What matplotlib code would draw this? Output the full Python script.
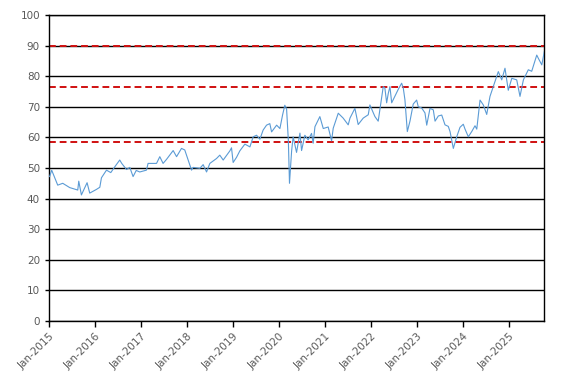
import matplotlib
matplotlib.use("Agg")
import matplotlib.pyplot as plt
import matplotlib.dates as mdates
import numpy as np
import pandas as pd

# series (approximate)
dates = [
    "2015-01-06", "2015-01-22", "2015-03-11", "2015-04-20", "2015-06-14", "2015-08-17",
    "2015-08-25", "2015-09-15", "2015-10-30", "2015-11-20", "2016-01-12", "2016-02-08",
    "2016-02-21", "2016-04-01", "2016-05-05", "2016-06-06", "2016-07-15", "2016-07-31",
    "2016-09-07", "2016-10-03", "2016-10-29", "2016-11-23", "2016-12-21", "2017-02-12",
    "2017-02-25", "2017-05-03", "2017-05-29", "2017-06-24", "2017-07-21", "2017-08-16",
    "2017-09-12", "2017-10-09", "2017-11-17", "2017-12-13", "2018-01-09", "2018-02-05",
    "2018-02-17", "2018-04-12", "2018-05-08", "2018-06-04", "2018-06-30", "2018-08-22",
    "2018-09-17", "2018-10-14", "2018-12-06", "2018-12-19", "2019-01-01", "2019-01-28",
    "2019-02-23", "2019-04-04", "2019-05-14", "2019-06-09", "2019-07-06", "2019-08-01",
    "2019-08-27", "2019-09-23", "2019-10-19", "2019-11-02", "2019-12-12", "2020-01-07",
    "2020-01-28", "2020-02-15", "2020-02-29", "2020-03-14", "2020-03-23", "2020-04-09",
    "2020-04-21", "2020-05-18", "2020-06-14", "2020-06-27", "2020-07-23", "2020-08-18",
    "2020-09-14", "2020-09-27", "2020-10-11", "2020-11-19", "2020-12-16", "2021-01-24",
    "2021-02-20", "2021-03-05", "2021-04-14", "2021-05-23", "2021-07-02", "2021-07-16",
    "2021-08-24", "2021-09-19", "2021-10-29", "2021-12-08", "2021-12-21", "2022-01-30",
    "2022-02-25", "2022-03-11", "2022-04-06", "2022-04-19", "2022-05-03", "2022-05-16",
    "2022-05-29", "2022-06-12", "2022-07-08", "2022-08-03", "2022-08-30", "2022-09-12",
    "2022-09-25", "2022-10-14", "2022-11-04", "2022-11-30", "2022-12-27", "2023-01-09",
    "2023-02-05", "2023-03-03", "2023-03-17", "2023-04-12", "2023-05-08", "2023-05-22",
    "2023-06-17", "2023-07-14", "2023-08-09", "2023-09-04", "2023-09-18", "2023-10-01",
    "2023-10-14", "2023-11-10", "2023-12-06", "2024-01-01", "2024-01-15", "2024-02-10",
    "2024-03-08", "2024-04-03", "2024-04-17", "2024-05-13", "2024-06-08", "2024-07-05",
    "2024-07-31", "2024-08-26", "2024-10-05", "2024-11-01", "2024-11-27", "2024-12-23",
    "2025-01-20", "2025-02-28", "2025-03-26", "2025-04-22", "2025-05-31", "2025-06-27",
    "2025-08-06", "2025-08-19", "2025-09-15", "2025-10-05",
]
values = [
    47.2, 49.3, 44.4, 45.0, 43.6, 42.8,
    45.7, 41.2, 45.2, 41.8, 43.0, 43.7,
    46.8, 49.3, 48.5, 50.4, 52.6, 51.5,
    49.5, 50.2, 47.2, 49.2, 48.7, 49.3,
    51.5, 51.5, 53.7, 51.5, 52.8, 54.2,
    55.7, 53.7, 56.4, 55.9, 52.6, 49.3,
    50.2, 49.9, 51.1, 48.7, 51.5, 53.1,
    54.2, 52.6, 55.6, 56.6, 51.8, 53.5,
    55.6, 57.8, 56.9, 60.2, 60.7, 59.4,
    62.4, 64.0, 64.5, 61.8, 64.0, 62.9,
    67.3, 70.5, 69.3, 59.0, 45.0, 55.6,
    60.2, 55.1, 61.4, 55.7, 60.7, 59.2,
    61.3, 58.1, 63.5, 66.8, 62.9, 63.4,
    58.9, 63.0, 67.9, 66.3, 64.1, 66.3,
    69.5, 64.2, 66.3, 67.4, 70.6, 66.8,
    65.3, 69.3, 76.6, 76.1, 71.3, 74.4,
    76.6, 71.3, 73.5, 75.7, 77.7, 76.1,
    72.3, 61.9, 65.3, 70.9, 72.2, 70.0,
    69.6, 68.0, 64.0, 69.5, 69.0, 65.3,
    67.0, 67.3, 64.1, 63.6, 61.9, 59.2,
    56.4, 60.2, 63.3, 64.3, 62.7, 60.2,
    61.9, 63.8, 62.7, 72.2, 70.6, 67.5,
    73.4, 76.6, 81.5, 78.8, 82.6, 75.4,
    79.3, 78.8, 73.4, 78.8, 82.1, 81.6,
    86.9, 85.8, 83.7, 88.0,
]
ref_levels = [90.0, 76.6, 58.6]
year_ticks = [f"{y}-01-01" for y in range(2015, 2026)]
x_start, x_end = "2015-01-01", "2025-10-05"

t = pd.to_datetime(dates)

fig = plt.figure(figsize=(5.72, 3.84), dpi=100)
ax = fig.add_axes([0.0857, 0.164, 0.8659, 0.797])

ax.set_ylim(0, 100)
ax.set_yticks(np.arange(0, 101, 10))
ax.set_xlim(pd.Timestamp(x_start), pd.Timestamp(x_end))
ax.grid(axis="y", color="black", linewidth=1.0)
ax.set_axisbelow(True)

for lv in ref_levels:
    ax.axhline(lv, color="#D01010", linestyle=(0, (3.5, 2)), linewidth=1.4, zorder=2)

ax.plot(t, values, color="#5B9BD5", linewidth=0.8, zorder=3)

ax.set_xticks(pd.to_datetime(year_ticks))
ax.xaxis.set_major_formatter(mdates.DateFormatter("%b-%Y"))
plt.setp(ax.get_xticklabels(), rotation=45, ha="right", rotation_mode="anchor")

for s in ax.spines.values():
    s.set_color("black")
    s.set_linewidth(1.0)
ax.tick_params(axis="both", colors="black", labelcolor="#595959", labelsize=7.5,
               length=4, width=1.0)
ax.tick_params(axis="y", length=3)

fig.savefig("out.png", dpi=100)
